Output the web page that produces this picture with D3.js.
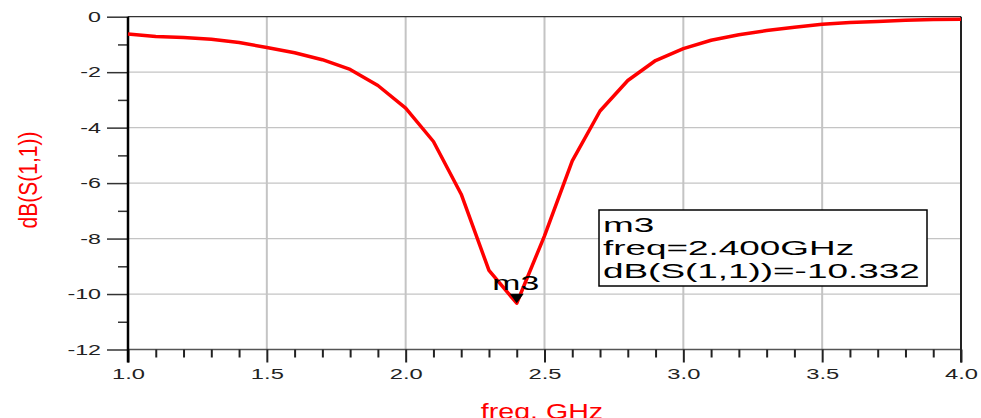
<!DOCTYPE html>
<html>
<head>
<meta charset="utf-8">
<script src="https://cdn.jsdelivr.net/npm/d3@7"></script>
<style>
    body { margin: 0; background: #fff; overflow: hidden; }
    text { font-family: Arial, "Liberation Sans", sans-serif; }
</style>
</head>
<body>
<div id="s11-chart"></div>
<script>
// sweep
const freqGHz = [1.0, 1.1, 1.2, 1.3, 1.4, 1.5, 1.6, 1.7, 1.8, 1.9,
                 2.0, 2.1, 2.2, 2.3, 2.4, 2.5, 2.6, 2.7, 2.8, 2.9,
                 3.0, 3.1, 3.2, 3.3, 3.4, 3.5, 3.6, 3.7, 3.8, 3.9, 4.0];
const dbS11 = [-0.62, -0.71, -0.75, -0.81, -0.93, -1.11, -1.30, -1.55, -1.90, -2.48,
               -3.30, -4.50, -6.40, -9.15, -10.332, -7.90, -5.20, -3.40, -2.30, -1.58,
               -1.15, -0.85, -0.65, -0.50, -0.38, -0.27, -0.21, -0.17, -0.13, -0.10, -0.09];

const yMajorTicks = [0, -2, -4, -6, -8, -10, -12];
const yMinorTicks = [-1, -3, -5, -7, -9, -11];
const xMajorTicks = [1.0, 1.5, 2.0, 2.5, 3.0, 3.5, 4.0];
const xMinorTicks = [1.1, 1.2, 1.3, 1.4, 1.6, 1.7, 1.8, 1.9, 2.1, 2.2, 2.3, 2.4,
                     2.6, 2.7, 2.8, 2.9, 3.1, 3.2, 3.3, 3.4, 3.6, 3.7, 3.8, 3.9];

const markerName = 'm3';
const markerFreq = 2.4;
const markerValue = -10.332;

const X_TITLE = 'freq, GHz';
const Y_TITLE = 'dB(S(1,1))';

const WIDTH = 981;
const HEIGHT = 418;
const PLOT = { left: 128, right: 961, top: 16.7, bottom: 349.5 };
const RED = '#ff0000';
const GRID = '#c4c4c4';

const svg = d3.select('#s11-chart').append('svg')
    .attr('width', WIDTH)
    .attr('height', HEIGHT);

const x = d3.scaleLinear().domain([1, 4]).range([PLOT.left, PLOT.right]);
const y = d3.scaleLinear().domain([-12, 0]).range([PLOT.bottom, PLOT.top]);

// grid
svg.append('g').selectAll('line')
    .data(yMajorTicks.filter(d => d !== 0 && d !== -12))
    .join('line')
    .attr('x1', x(1)).attr('x2', x(4))
    .attr('y1', d => y(d)).attr('y2', d => y(d))
    .attr('stroke', GRID).attr('stroke-width', 1.2);

svg.append('g').selectAll('line')
    .data(xMajorTicks.filter(d => d !== 1 && d !== 4))
    .join('line')
    .attr('x1', d => x(d)).attr('x2', d => x(d))
    .attr('y1', y(0)).attr('y2', y(-12))
    .attr('stroke', GRID).attr('stroke-width', 2);

// frame
svg.append('line')
    .attr('x1', x(1)).attr('x2', x(4)).attr('y1', y(0)).attr('y2', y(0))
    .attr('stroke', '#333').attr('stroke-width', 1.3);
svg.append('line')
    .attr('x1', x(1)).attr('x2', x(4)).attr('y1', y(-12)).attr('y2', y(-12))
    .attr('stroke', '#555').attr('stroke-width', 1.3);

// y axis
const yAxisG = svg.append('g')
    .attr('transform', `translate(${x(1)},0)`)
    .call(d3.axisLeft(y).tickValues(yMajorTicks).tickSize(21).tickFormat(d => String(d)));
yAxisG.select('.domain').remove();
yAxisG.selectAll('.tick line').attr('stroke', '#333').attr('stroke-width', 1.5);
yAxisG.selectAll('.tick text')
    .attr('font-size', 15)
    .attr('fill', '#222')
    .attr('x', -27 / 1.55)
    .attr('transform', 'scale(1.55,1)');

const yMinorG = svg.append('g')
    .attr('transform', `translate(${x(1)},0)`)
    .call(d3.axisLeft(y).tickValues(yMinorTicks).tickSize(10).tickFormat(''));
yMinorG.select('.domain').remove();
yMinorG.selectAll('.tick line').attr('stroke', '#333').attr('stroke-width', 1.5);

// x axis
const xAxisG = svg.append('g')
    .attr('transform', `translate(0,${y(-12)})`)
    .call(d3.axisBottom(x).tickValues(xMajorTicks).tickSize(13).tickPadding(6).tickFormat(d3.format('.1f')));
xAxisG.select('.domain').remove();
xAxisG.selectAll('.tick line').attr('stroke', '#222').attr('stroke-width', 2);
xAxisG.selectAll('.tick text')
    .attr('font-size', 15)
    .attr('fill', '#222')
    .attr('transform', 'scale(1.58,1)');

const xMinorG = svg.append('g')
    .attr('transform', `translate(0,${y(-12)})`)
    .call(d3.axisBottom(x).tickValues(xMinorTicks).tickSize(8).tickFormat(''));
xMinorG.select('.domain').remove();
xMinorG.selectAll('.tick line').attr('stroke', '#222').attr('stroke-width', 2);

// left and right edges
svg.append('line')
    .attr('x1', x(1)).attr('x2', x(1)).attr('y1', y(0)).attr('y2', y(-12) + 13)
    .attr('stroke', '#000').attr('stroke-width', 2.5);
svg.append('line')
    .attr('x1', x(4)).attr('x2', x(4)).attr('y1', y(0)).attr('y2', y(-12) + 13)
    .attr('stroke', '#222').attr('stroke-width', 2);

// trace
const line = d3.line()
    .x((d, i) => x(freqGHz[i]))
    .y(d => y(d));

svg.append('path')
    .datum(dbS11)
    .attr('fill', 'none')
    .attr('stroke', RED)
    .attr('stroke-width', 3.5)
    .attr('stroke-linejoin', 'round')
    .attr('d', line);

// marker
const mx = x(markerFreq);
const my = y(markerValue);
svg.append('path')
    .attr('transform', `translate(${mx},${my})`)
    .attr('d', 'M-7,-9.5L7,-9.5L0,0Z')
    .attr('fill', '#000');

svg.append('g')
    .attr('transform', `translate(${mx - 1},${my - 13}) scale(1.73,1)`)
    .append('text')
    .attr('text-anchor', 'middle')
    .attr('font-size', 19.5)
    .attr('fill', '#000')
    .text(markerName);

// marker readout box
const box = svg.append('g').attr('transform', 'translate(599,210)');
box.append('rect')
    .attr('width', 328).attr('height', 76)
    .attr('fill', '#fff')
    .attr('stroke', '#000').attr('stroke-width', 1.5);

const readout = [markerName, `freq=${markerFreq.toFixed(3)}GHz`, `dB(S(1,1))=${markerValue.toFixed(3)}`];
box.selectAll('g.row')
    .data(readout)
    .join('g')
    .attr('class', 'row')
    .attr('transform', (d, i) => `translate(4,${22 + i * 23}) scale(1.8,1)`)
    .append('text')
    .attr('font-size', 20.5)
    .attr('fill', '#000')
    .text(d => d);

// axis titles
svg.append('g')
    .attr('transform', 'translate(37,180) scale(1.2,1) rotate(-90)')
    .append('text')
    .attr('text-anchor', 'middle')
    .attr('font-size', 21)
    .attr('fill', RED)
    .text(Y_TITLE);

svg.append('g')
    .attr('transform', 'translate(542,419) scale(1.3,1)')
    .append('text')
    .attr('text-anchor', 'middle')
    .attr('font-size', 22)
    .attr('fill', RED)
    .text(X_TITLE);
</script>
</body>
</html>
